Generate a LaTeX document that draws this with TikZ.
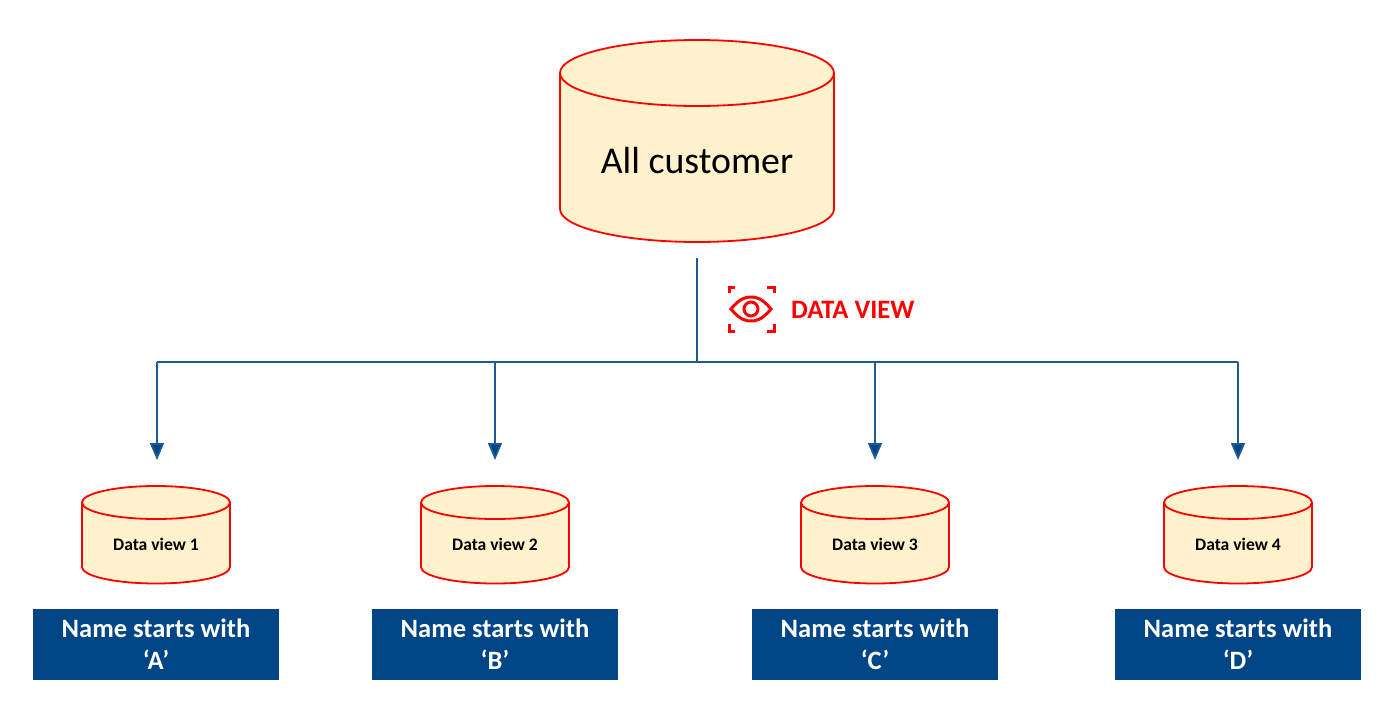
\documentclass[tikz,border=0pt]{standalone}
\usepackage{fontspec}
\setmainfont{Carlito}
\usetikzlibrary{arrows.meta}
\definecolor{cylfill}{HTML}{FFF2CC}
\definecolor{navy}{HTML}{004586}
\definecolor{linkblue}{HTML}{1F5A94}
\tikzset{
  x=1pt,y=-1pt,
  cyl/.style={draw=red,fill=cylfill,line width=1.8pt},
  namebox/.style={draw=none,fill=navy,text=white,minimum width=246pt,minimum height=71pt,align=center,inner sep=0pt,font=\fontsize{26.5}{32}\selectfont\bfseries},
  smalllabel/.style={inner sep=0pt,font=\fontsize{17.6}{20}\selectfont\bfseries},
  link/.style={draw=linkblue,line width=1.8pt},
  arrowlink/.style={link,-{Triangle[length=17pt,width=14pt,fill=navy]}},
  eyeline/.style={draw=red,line width=3pt,line cap=butt}
}
\begin{document}
\begin{tikzpicture}
\useasboundingbox (0,0) rectangle (1390,705);
\fill[white] (0,0) rectangle (1390,705);
% main cylinder
\path[cyl] (560,73) arc[start angle=180,end angle=360,x radius=137,y radius=33]
  -- (834,209) arc[start angle=0,end angle=180,x radius=137,y radius=33] -- cycle;
\draw[cyl,fill=none] (560,73) arc[start angle=180,end angle=0,x radius=137,y radius=33];
\node[inner sep=0pt,font=\fontsize{37.8}{42}\selectfont] (main) at (697,160.5) {All customer};
% small cylinders
\foreach \cx/\nm/\n in {156/a/1,495/b/2,875/c/3,1238/d/4}{
  \path[cyl] (\cx-74,502.5) arc[start angle=180,end angle=360,x radius=74,y radius=16.5]
    -- (\cx+74,567) arc[start angle=0,end angle=180,x radius=74,y radius=16.5] -- cycle;
  \draw[cyl,fill=none] (\cx-74,502.5) arc[start angle=180,end angle=0,x radius=74,y radius=16.5];
  \node[smalllabel] (view\nm) at (\cx,544) {Data view \n};
}
% name boxes
\node[namebox] (boxa) at (156,644.5) {Name starts with\\‘A’};
\node[namebox] (boxb) at (495,644.5) {Name starts with\\‘B’};
\node[namebox] (boxc) at (875,644.5) {Name starts with\\‘C’};
\node[namebox] (boxd) at (1238,644.5) {Name starts with\\‘D’};
% connectors
\coordinate (trunktop) at (697,258);
\coordinate (hub) at (697,362);
\coordinate (ja) at (157,362);
\coordinate (jb) at (495,362);
\coordinate (jc) at (875,362);
\coordinate (jd) at (1238,362);
\coordinate (ta) at (157,460);
\coordinate (tb) at (495,460);
\coordinate (tc) at (875,460);
\coordinate (td) at (1238,460);
\draw[link] (trunktop) -- (hub);
\draw[link] (ja) -- (jd);
\draw[arrowlink] (ja) -- (ta);
\draw[arrowlink] (jb) -- (tb);
\draw[arrowlink] (jc) -- (tc);
\draw[arrowlink] (jd) -- (td);
% data view icon
\draw[eyeline] (729,293) -- (729,287) -- (735,287);
\draw[eyeline] (767,287) -- (774,287) -- (774,293);
\draw[eyeline] (729,324) -- (729,331) -- (735,331);
\draw[eyeline] (767,331) -- (774,331) -- (774,324);
\draw[eyeline] (731,309) .. controls (740,298) and (746,297) .. (751,297)
  .. controls (756,297) and (762,298) .. (771,309)
  .. controls (762,320) and (756,321) .. (751,321)
  .. controls (746,321) and (740,320) .. (731,309) -- cycle;
\draw[eyeline] (751,309) circle[radius=7];
\node[inner sep=0pt,anchor=west,text=red,font=\fontsize{26.6}{30}\selectfont\bfseries] (dv) at (791,310) {DATA VIEW};
\end{tikzpicture}
\end{document}
